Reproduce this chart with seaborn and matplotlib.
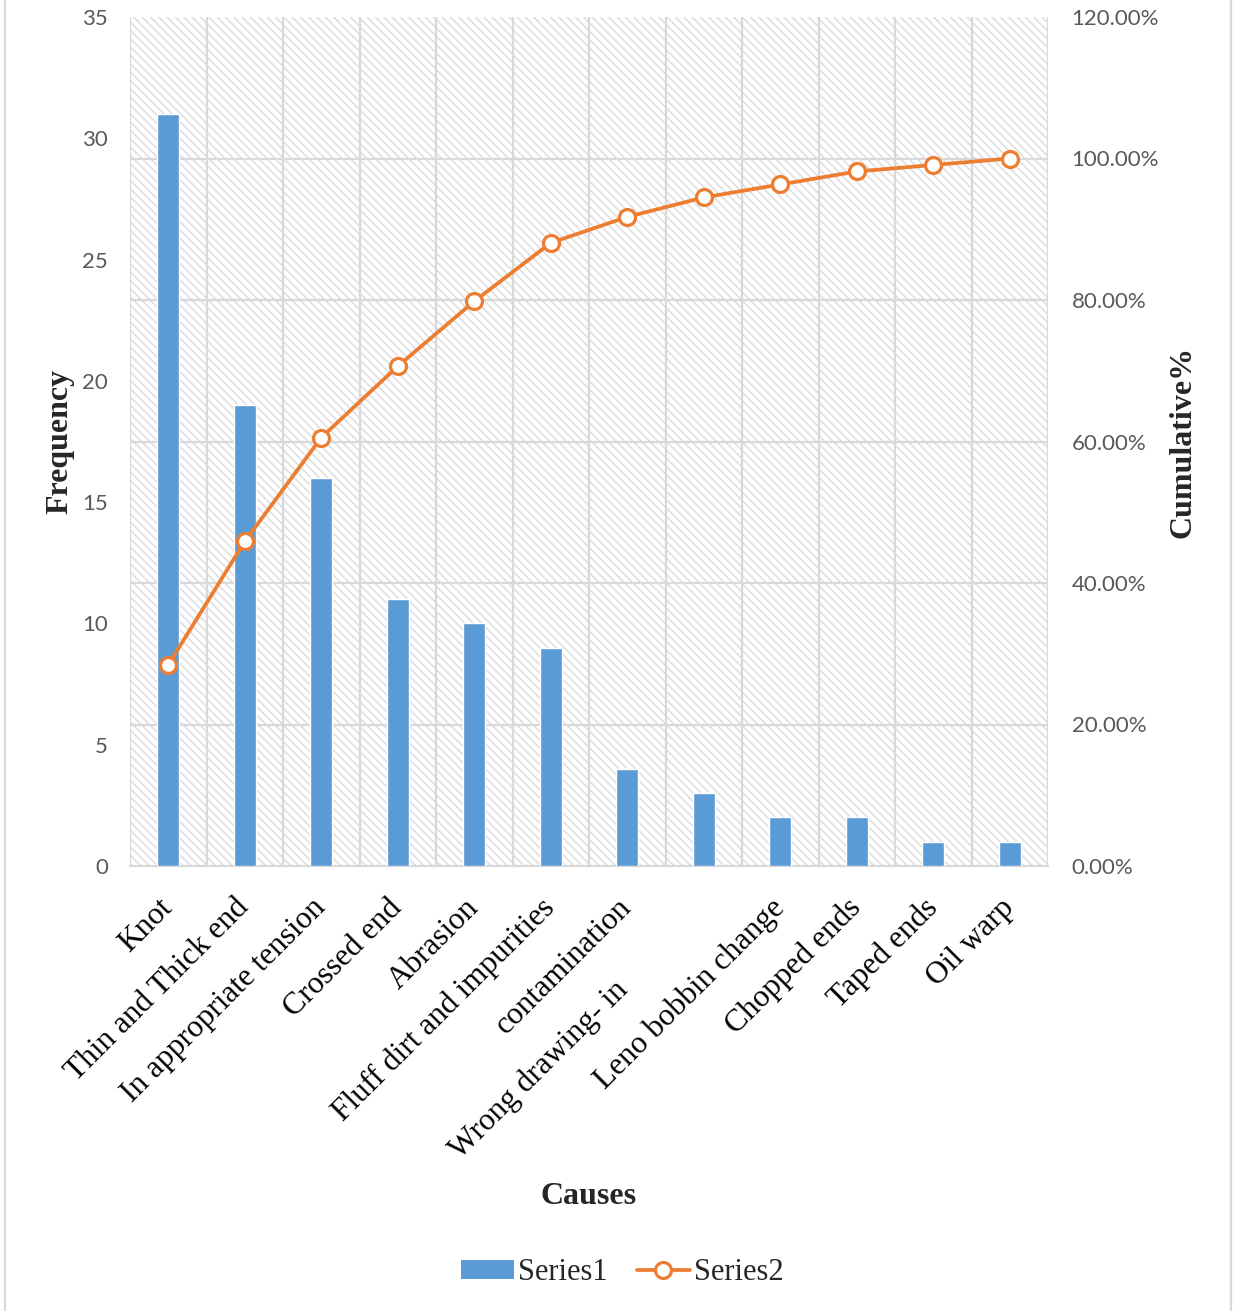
import numpy as np
import pandas as pd
import matplotlib
matplotlib.use("Agg")
import matplotlib.pyplot as plt
import seaborn as sns
from matplotlib.patches import Rectangle, Patch
from matplotlib.lines import Line2D
from matplotlib.ticker import FuncFormatter
from matplotlib.transforms import ScaledTranslation

# Warp break causes and their frequencies
causes = ["Knot", "Thin and Thick end", "In appropriate tension", "Crossed end",
          "Abrasion", "Fluff dirt and impurities", "contamination",
          "Wrong drawing- in", "Leno bobbin change", "Chopped ends",
          "Taped ends", "Oil warp"]
frequency = [31, 19, 16, 11, 10, 9, 4, 3, 2, 2, 1, 1]
freq_ticks = [0, 5, 10, 15, 20, 25, 30, 35]
pct_ticks = [0.0, 0.2, 0.4, 0.6, 0.8, 1.0, 1.2]
series_names = ["Series1", "Series2"]

cumulative = np.cumsum(frequency) / np.sum(frequency)

sns.set_style("white")
plt.rcParams["font.family"] = ["Liberation Serif", "DejaVu Sans"]
plt.rcParams["hatch.linewidth"] = 1.1

BLUE = "#5B9BD5"
ORANGE = "#ED7D31"
GRID = "#D9D9D9"
TICK_GRAY = "#595959"
W, H = 1234, 1311

fig = plt.figure(figsize=(W / 100, H / 100), dpi=100)
ax = fig.add_axes([130 / W, 1 - 866 / H, (1048 - 130) / W, (866 - 17) / H])

# hatched plot-area background
ax.add_patch(Rectangle((0, 0), 1, 1, transform=ax.transAxes, facecolor="white",
                       edgecolor="#DDDDDD", hatch="\\\\\\\\", lw=0, zorder=0))

df = pd.DataFrame({"cause": causes, "freq": frequency})
sns.barplot(data=df, x="cause", y="freq", color=BLUE, saturation=1, width=0.29,
            ax=ax, zorder=3)

ax.set_xlim(-0.5, len(causes) - 0.5)
ax.set_ylim(0, 35)
ax.set_axisbelow(True)

# gridlines: horizontal at the percentage ticks, vertical at category edges
ax.set_yticks(freq_ticks)
ax.set_yticks(np.linspace(0, 35, len(pct_ticks)), minor=True)
ax.set_xticks(np.arange(-0.5, len(causes), 1), minor=True)
ax.grid(which="minor", axis="both", color=GRID, lw=1.6)
ax.grid(which="major", visible=False)

for s in ["top", "left", "right"]:
    ax.spines[s].set_visible(False)
ax.spines["bottom"].set_color(GRID)
ax.spines["bottom"].set_linewidth(1.6)

ax.tick_params(axis="y", which="both", length=0)
ax.tick_params(axis="y", which="major", pad=16, labelsize=16, labelcolor=TICK_GRAY)
ax.tick_params(axis="x", which="minor", length=8, width=1.6, color=GRID, direction="out")
ax.tick_params(axis="x", which="major", length=0, pad=27)
for lab in ax.get_yticklabels():
    lab.set_fontfamily("Lato")

ax.set_xticks(range(len(causes)))
ax.set_xticklabels(causes, rotation=45, ha="right", va="center",
                   rotation_mode="anchor", fontsize=22.5, color="black")
# this label carries trailing padding in the source, so it sits further out
wd = ax.get_xticklabels()[7]
wd.set_transform(wd.get_transform() + ScaledTranslation(-0.80, -0.82, fig.dpi_scale_trans))

ax.set_xlabel("Causes", fontsize=23, fontweight="bold", va="center")
ax.xaxis.set_label_coords(0.5, -(1197 - 866) / 849)
ax.set_ylabel("Frequency", fontsize=23, fontweight="bold", va="center")
ax.yaxis.set_label_coords((60 - 130) / 918, 0.5)

# cumulative percentage on the secondary axis
ax2 = ax.twinx()
sns.lineplot(x=np.arange(len(causes)), y=cumulative, ax=ax2, color=ORANGE,
             lw=2.7, marker="o", markersize=11.5, markerfacecolor="white",
             markeredgecolor=ORANGE, markeredgewidth=2.3, zorder=5)
ax2.set_xlim(-0.5, len(causes) - 0.5)
ax2.set_ylim(0, 1.2)
ax2.set_yticks(pct_ticks)
ax2.yaxis.set_major_formatter(FuncFormatter(lambda v, p: f"{v * 100:.2f}%"))
ax2.tick_params(axis="y", length=0, pad=17, labelsize=16, labelcolor=TICK_GRAY)
for lab in ax2.get_yticklabels():
    lab.set_fontfamily("Lato")
for s in ax2.spines.values():
    s.set_visible(False)
ax2.grid(False)
ax2.set_ylabel("Cumulative%", fontsize=23, fontweight="bold", va="center", rotation=90)
ax2.yaxis.set_label_coords((1183 - 130) / 918, 0.5)

# legend
handles = [Patch(facecolor=BLUE, edgecolor="none"),
           Line2D([0], [0], color=ORANGE, lw=2.7, marker="o", markersize=11.5,
                  markerfacecolor="white", markeredgecolor=ORANGE, markeredgewidth=2.3)]
fig.legend(handles, series_names, loc="center", bbox_to_anchor=(622 / W, 1 - 1273 / H),
           ncol=2, frameon=False, fontsize=22, handlelength=1.75, handleheight=0.55,
           handletextpad=0.12, columnspacing=0.95)

# chart frame edges
for xe in (5 / W, 1231 / W):
    fig.add_artist(Line2D([xe, xe], [0, 1], transform=fig.transFigure, color=GRID, lw=1.6))

fig.savefig("out.png", dpi=100)
